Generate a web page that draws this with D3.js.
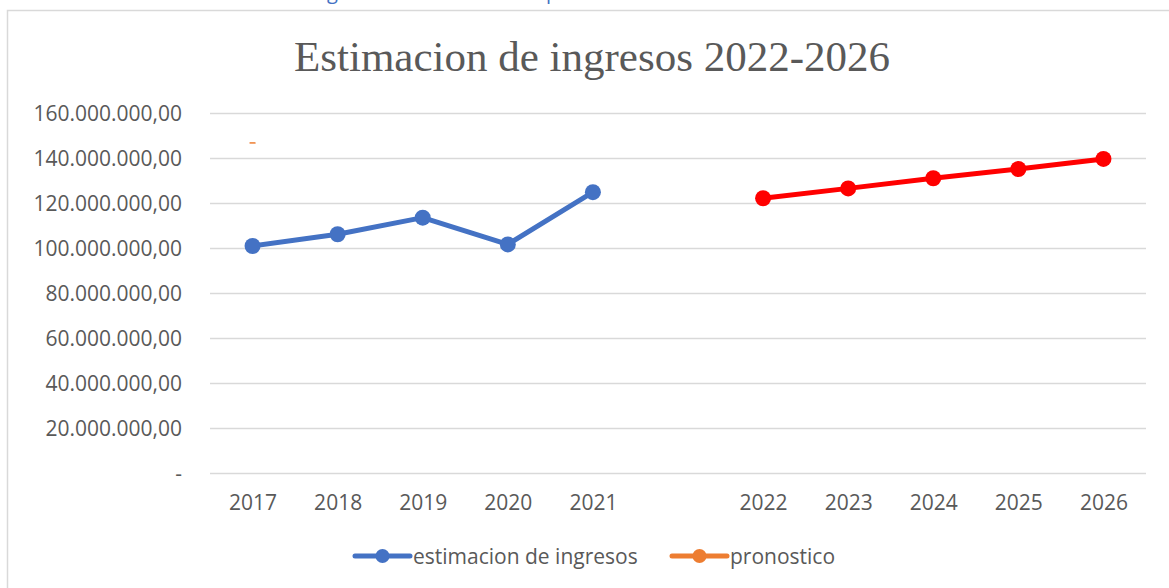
<!DOCTYPE html>
<html>
<head>
<meta charset="utf-8">
<script src="https://cdn.jsdelivr.net/npm/d3@7"></script>
<style>
  body { margin: 0; background: #fff; }
  svg text { font-family: "Open Sans", sans-serif; fill: #595959; }
</style>
</head>
<body>
<svg id="chart" width="1169" height="588"></svg>
<script>
// categories (the empty one is the gap between real and forecast)
var years = ["2017", "2018", "2019", "2020", "2021", " ", "2022", "2023", "2024", "2025", "2026"];
var realYears = ["2017", "2018", "2019", "2020", "2021"];
var realValues = [100.9e6, 106.1e6, 113.5e6, 101.6e6, 124.8e6];
var forecastYears = ["2022", "2023", "2024", "2025", "2026"];
var forecastValues = [122.1e6, 126.5e6, 131.0e6, 135.1e6, 139.6e6];
// stray orange mark of the "pronostico" series
var strayYears = ["2017"];
var strayValues = [146.7e6];
var yTicks = [0, 20e6, 40e6, 60e6, 80e6, 100e6, 120e6, 140e6, 160e6];
var seriesNames = ["estimacion de ingresos", "pronostico"];

var svg = d3.select("#chart");

var plotLeft = 210, plotRight = 1146, plotTop = 113, plotBottom = 473;

var x = d3.scalePoint().domain(years).range([plotLeft, plotRight]).padding(0.5);
var y = d3.scaleLinear().domain([0, 160e6]).range([plotBottom, plotTop]);

var loc = d3.formatLocale({decimal: ",", thousands: ".", grouping: [3], currency: ["", ""]});
var fmt = loc.format(",.2f");

// chart frame
svg.append("rect")
    .attr("x", 7.5).attr("y", 10.5)
    .attr("width", 1200).attr("height", 620)
    .attr("fill", "none").attr("stroke", "#d9d9d9").attr("stroke-width", 1.5);

// clipped heading above the frame
svg.append("text")
    .attr("x", 281).attr("y", -1)
    .style("font-size", "20px")
    .style("fill", "#4472c4")
    .text("de ingresos 2017 - 2026 con pronostico");

// title
svg.append("text")
    .attr("x", 592).attr("y", 71)
    .attr("text-anchor", "middle")
    .style("font-family", "'Liberation Serif', 'Times New Roman', serif")
    .style("font-size", "43px")
    .text("Estimacion de ingresos 2022-2026");

// gridlines + y labels
var yAxis = d3.axisLeft(y).tickValues(yTicks)
    .tickSize(-(plotRight - plotLeft))
    .tickPadding(28)
    .tickFormat(function(d){ return d === 0 ? "-" : fmt(d); });

var ga = svg.append("g")
    .attr("transform", "translate(" + plotLeft + ",0)")
    .call(yAxis);
ga.select(".domain").remove();
ga.selectAll(".tick line").attr("stroke", "#d9d9d9").attr("stroke-width", 1.5);
ga.selectAll(".tick text").style("font-size", "21px").attr("dy", "0.36em");

// x labels
var xa = svg.append("g")
    .attr("transform", "translate(0," + plotBottom + ")")
    .call(d3.axisBottom(x).tickSize(0).tickPadding(22));
xa.select(".domain").remove();
xa.selectAll(".tick text").style("font-size", "21px").attr("dy", "0.71em");

var line = d3.line()
    .x(function(d){ return x(d.year); })
    .y(function(d){ return y(d.value); });

function drawSeries(yrs, vals, colour){
    var pts = yrs.map(function(yr, i){ return {year: yr, value: vals[i]}; });
    svg.append("path")
        .datum(pts)
        .attr("d", line)
        .attr("fill", "none")
        .attr("stroke", colour)
        .attr("stroke-width", 5)
        .attr("stroke-linejoin", "round")
        .attr("stroke-linecap", "round");
    svg.selectAll(null)
        .data(pts)
        .enter()
        .append("circle")
        .attr("cx", function(d){ return x(d.year); })
        .attr("cy", function(d){ return y(d.value); })
        .attr("r", 8)
        .attr("fill", colour);
}

drawSeries(realYears, realValues, "#4472c4");
drawSeries(forecastYears, forecastValues, "#ff0000");

// tiny orange dash
svg.selectAll(null)
    .data(strayYears.map(function(yr, i){ return {year: yr, value: strayValues[i]}; }))
    .enter()
    .append("line")
    .attr("x1", function(d){ return x(d.year) - 3; })
    .attr("x2", function(d){ return x(d.year) + 3; })
    .attr("y1", function(d){ return y(d.value); })
    .attr("y2", function(d){ return y(d.value); })
    .attr("stroke", "#ed7d31")
    .attr("stroke-width", 1.5);

// legend
var legColours = ["#4472c4", "#ed7d31"];
var legX = [355, 672];
var leg = svg.selectAll(".leg")
    .data(seriesNames)
    .enter()
    .append("g")
    .attr("class", "leg")
    .attr("transform", function(d, i){ return "translate(" + legX[i] + ",556)"; });
leg.append("line")
    .attr("x1", 0).attr("x2", 55)
    .attr("stroke", function(d, i){ return legColours[i]; })
    .attr("stroke-width", 5)
    .attr("stroke-linecap", "round");
leg.append("circle")
    .attr("cx", 27.5).attr("r", 7)
    .attr("fill", function(d, i){ return legColours[i]; });
leg.append("text")
    .attr("x", 58).attr("dy", "0.36em")
    .style("font-size", "21px")
    .text(function(d){ return d; });
</script>
</body>
</html>
